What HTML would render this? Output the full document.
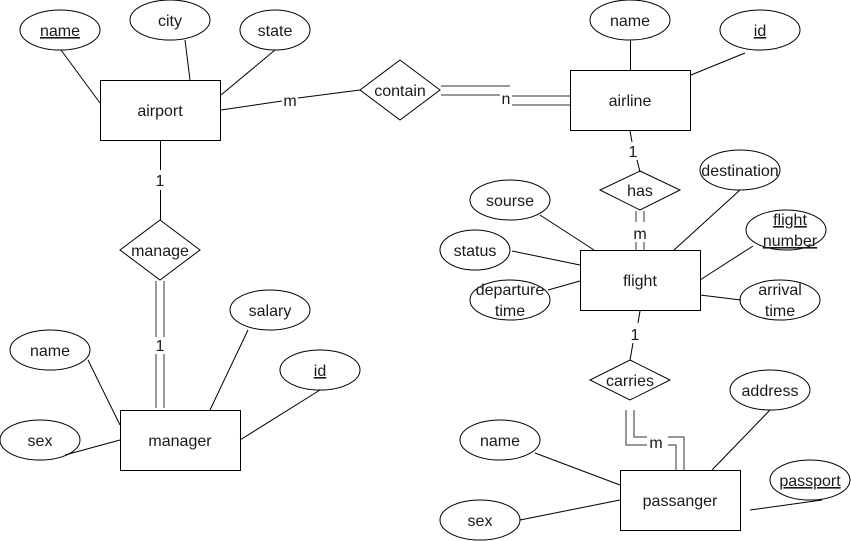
<!DOCTYPE html>
<html><head><meta charset="utf-8"><style>html,body{margin:0;padding:0;background:#fff}svg{display:block}text{font-family:"Liberation Sans",Arial,sans-serif;font-size:16px;fill:#1a1a1a}</style></head><body>
<svg width="851" height="541" viewBox="0 0 851 541" xmlns="http://www.w3.org/2000/svg">
<g stroke="#000" stroke-width="1" fill="none">
<!-- airport -->
<rect x="100.5" y="80.5" width="120" height="60" fill="#fff"/>
<ellipse cx="60" cy="30" rx="40" ry="20"/>
<ellipse cx="170" cy="20" rx="40" ry="20"/>
<ellipse cx="275" cy="30" rx="35" ry="20"/>
<line x1="61" y1="50" x2="100" y2="103"/>
<line x1="185" y1="40" x2="190" y2="80"/>
<line x1="275" y1="50" x2="221" y2="95"/>
<line x1="221" y1="110" x2="282" y2="101"/>
<line x1="298" y1="98" x2="360" y2="90"/>
<polygon points="400,60 440,90 400,120 360,90"/>
<!-- contain-airline double -->
<g stroke="#777" stroke-width="1.5">
<line x1="441" y1="86" x2="510" y2="86"/><line x1="441" y1="95" x2="500" y2="95"/>
<line x1="512" y1="96" x2="570" y2="96"/><line x1="512" y1="105" x2="570" y2="105"/>
</g>
<!-- airline -->
<rect x="570.5" y="70.5" width="120" height="60"/>
<ellipse cx="630" cy="20" rx="40" ry="20"/>
<line x1="630.5" y1="40" x2="630.5" y2="70"/>
<ellipse cx="760" cy="30" rx="40" ry="20"/>
<line x1="745" y1="53" x2="691" y2="75"/>
<line x1="630" y1="131" x2="632" y2="142"/>
<line x1="637" y1="160" x2="640" y2="172"/>
<polygon points="640,171 680,190 640,210 600,190"/>
<g stroke="#777" stroke-width="1.5">
<line x1="636" y1="211" x2="636" y2="222"/><line x1="644" y1="211" x2="644" y2="222"/>
<line x1="636" y1="242" x2="636" y2="250"/><line x1="644" y1="242" x2="644" y2="250"/>
</g>
<!-- flight -->
<rect x="580.5" y="250.5" width="120" height="60"/>
<ellipse cx="510" cy="200" rx="40" ry="20"/>
<ellipse cx="475" cy="250" rx="35" ry="20"/>
<ellipse cx="510" cy="300" rx="40" ry="20"/>
<ellipse cx="740" cy="170" rx="40" ry="20"/>
<ellipse cx="786" cy="230" rx="40" ry="20"/>
<ellipse cx="780" cy="300" rx="40" ry="20"/>
<line x1="540" y1="215" x2="594" y2="250"/>
<line x1="512" y1="251" x2="580" y2="265"/>
<line x1="548" y1="290" x2="580" y2="281"/>
<line x1="740" y1="190" x2="674" y2="250"/>
<line x1="753" y1="246" x2="700" y2="280"/>
<line x1="741" y1="300" x2="700" y2="295"/>
<line x1="640" y1="311" x2="638" y2="323"/>
<line x1="633" y1="343" x2="630" y2="360"/>
<polygon points="630,360 670,380 630,400 590,380"/>
<g stroke="#777" stroke-width="1.5" fill="none">
<polyline points="626,410 626,445 647,445"/>
<polyline points="634,410 634,437 647,437"/>
<polyline points="668,445 676,445 676,470"/>
<polyline points="668,437 684,437 684,470"/>
</g>
<!-- passanger -->
<rect x="620.5" y="470.5" width="120" height="60"/>
<ellipse cx="500" cy="440" rx="40" ry="20"/>
<ellipse cx="480" cy="520" rx="40" ry="20"/>
<ellipse cx="770" cy="390" rx="40" ry="20"/>
<ellipse cx="810" cy="480" rx="40" ry="20"/>
<line x1="535" y1="453" x2="620" y2="485"/>
<line x1="520" y1="520" x2="620" y2="500"/>
<line x1="770" y1="410" x2="712" y2="470"/>
<line x1="822" y1="500" x2="750" y2="510"/>
<!-- manage -->
<line x1="160.5" y1="141" x2="160.5" y2="170"/>
<line x1="160.5" y1="190" x2="160.5" y2="220"/>
<polygon points="160,220 200,250 160,280 120,250"/>
<g stroke="#777" stroke-width="1.5">
<line x1="156" y1="281" x2="156" y2="337"/><line x1="164" y1="281" x2="164" y2="337"/>
<line x1="156" y1="354" x2="156" y2="408"/><line x1="164" y1="354" x2="164" y2="408"/>
</g>
<!-- manager -->
<rect x="120.5" y="410.5" width="120" height="60"/>
<ellipse cx="50" cy="350" rx="40" ry="20"/>
<ellipse cx="40" cy="440" rx="40" ry="20"/>
<ellipse cx="270" cy="310" rx="40" ry="20"/>
<ellipse cx="320" cy="370" rx="40" ry="20"/>
<line x1="88" y1="360" x2="120" y2="425"/>
<line x1="65" y1="455" x2="120" y2="440"/>
<line x1="248" y1="330" x2="210" y2="410"/>
<line x1="320" y1="390" x2="240" y2="440"/>
</g>
<g text-anchor="middle">
<text x="60" y="36" text-decoration="underline">name</text>
<text x="170" y="26">city</text>
<text x="275" y="36">state</text>
<text x="160" y="116">airport</text>
<text x="290" y="106">m</text>
<text x="400" y="96">contain</text>
<text x="506" y="104">n</text>
<text x="630" y="106">airline</text>
<text x="630" y="26">name</text>
<text x="760" y="36" text-decoration="underline">id</text>
<text x="633" y="157">1</text>
<text x="640" y="196">has</text>
<text x="640" y="239">m</text>
<text x="640" y="286">flight</text>
<text x="510" y="206">sourse</text>
<text x="475" y="256">status</text>
<text x="510" y="295">departure</text>
<text x="510" y="316">time</text>
<text x="740" y="176">destination</text>
<text x="790" y="225" text-decoration="underline">flight</text>
<text x="790" y="246" text-decoration="underline">number</text>
<text x="780" y="295">arrival</text>
<text x="780" y="316">time</text>
<text x="635" y="340">1</text>
<text x="630" y="386">carries</text>
<text x="656" y="448">m</text>
<text x="680" y="506">passanger</text>
<text x="500" y="446">name</text>
<text x="480" y="526">sex</text>
<text x="770" y="396">address</text>
<text x="810" y="486" text-decoration="underline">passport</text>
<text x="160" y="186">1</text>
<text x="160" y="256">manage</text>
<text x="160" y="351">1</text>
<text x="180" y="446">manager</text>
<text x="50" y="356">name</text>
<text x="40" y="446">sex</text>
<text x="270" y="316">salary</text>
<text x="320" y="376" text-decoration="underline">id</text>
</g>
</svg>
</body></html>
